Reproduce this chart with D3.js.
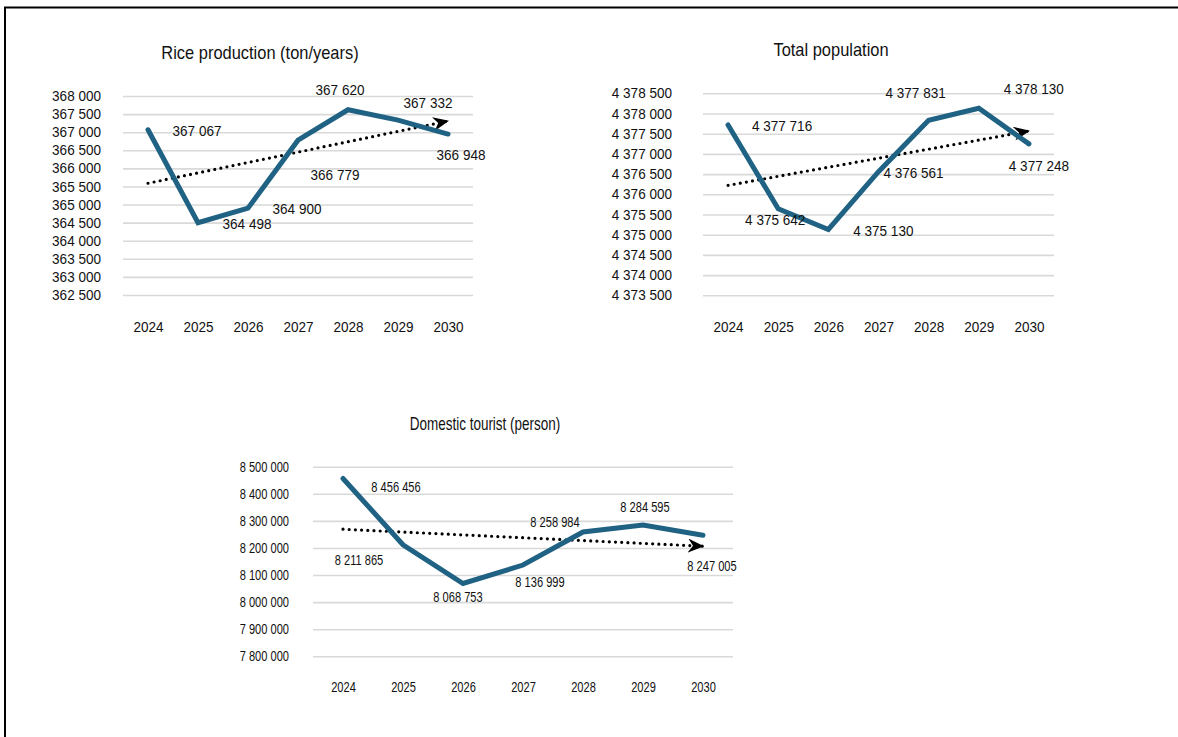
<!DOCTYPE html>
<html>
<head>
<meta charset="utf-8">
<script src="https://cdn.jsdelivr.net/npm/d3@7"></script>
<style>
  html, body { margin: 0; padding: 0; background: #fff; }
  svg { display: block; font-family: "Liberation Sans", Arial, sans-serif; }
</style>
</head>
<body>
<svg id="chart" width="1178" height="737"></svg>
<script>
// ---------- data ----------
const years = ["2024", "2025", "2026", "2027", "2028", "2029", "2030"];

const riceTitle = "Rice production (ton/years)";
const riceValues = [367067, 364498, 364900, 366779, 367620, 367332, 366948];
const riceTicks = [362500, 363000, 363500, 364000, 364500, 365000, 365500, 366000, 366500, 367000, 367500, 368000];

const popTitle = "Total population";
const popValues = [4377716, 4375642, 4375130, 4376561, 4377831, 4378130, 4377248];
const popTicks = [4373500, 4374000, 4374500, 4375000, 4375500, 4376000, 4376500, 4377000, 4377500, 4378000, 4378500];

const tourTitle = "Domestic tourist (person)";
const tourValues = [8456456, 8211865, 8068753, 8136999, 8258984, 8284595, 8247005];
const tourTicks = [7800000, 7900000, 8000000, 8100000, 8200000, 8300000, 8400000, 8500000];

// ---------- layout (label offsets relative to their points, in px) ----------
const riceLabelOffsets = [[49, 1], [49, 1], [49, 1], [37, 35], [-8, -20], [30, -17], [13, 21]];
const popLabelOffsets = [[54, 1], [-3, 11], [55, 1], [35, 1], [-13, -27], [55, -19], [10, 22]];
const tourLabelOffsets = [[53, 8], [-44, 15], [-5, 13], [17, 17], [-28, -10], [2, -18], [9, 31]];

const LINE_COLOR = "#1f6283";
const GRID_COLOR = "#d9d9d9";
const TEXT_COLOR = "#111";
const TICK_FS = 14.4;
const TITLE_FS = 17.5;

const svg = d3.select("#chart");
svg.append("rect").attr("width", 1178).attr("height", 737).attr("fill", "#fff");

// outer frame (left and top edges visible)
svg.append("path")
  .attr("d", "M5,737 V7.5 H1178")
  .attr("fill", "none").attr("stroke", "#000").attr("stroke-width", 2);

// arrow marker (stealth)
const defs = svg.append("defs");
defs.append("marker")
  .attr("id", "arrow")
  .attr("markerUnits", "userSpaceOnUse")
  .attr("viewBox", "0 0 16 14")
  .attr("refX", 15).attr("refY", 7)
  .attr("markerWidth", 16).attr("markerHeight", 14)
  .attr("orient", "auto")
  .append("path")
  .attr("d", "M0,0 L16,7 L0,14 L5,7 Z")
  .attr("fill", "#000");

const fmt = v => d3.format(",")(v).replace(/,/g, " ");

function scaledText(g, x, y, str, fs, sx, anchor) {
  return g.append("text")
    .attr("transform", `translate(${x},${y}) scale(${sx},1)`)
    .attr("text-anchor", anchor || "middle")
    .attr("dy", "0.35em")
    .attr("font-size", fs)
    .attr("fill", TEXT_COLOR)
    .text(str);
}

function linReg(vals) {
  const mx = d3.mean(vals, (d, i) => i);
  const my = d3.mean(vals);
  let num = 0, den = 0;
  vals.forEach((v, i) => { num += (i - mx) * (v - my); den += (i - mx) * (i - mx); });
  const b = num / den;
  const a = my - b * mx;
  return vals.map((v, i) => a + b * i);
}

function drawChart(cfg) {
  const g = svg.append("g");
  const x = d3.scalePoint().domain(years).range([cfg.x0, cfg.x1]).padding(0.5);
  const y = d3.scaleLinear().domain([cfg.ticks[0], cfg.ticks[cfg.ticks.length - 1]]).range([cfg.yBot, cfg.yTop]);

  // gridlines + y tick labels via axis
  const yAxis = d3.axisLeft(y).tickValues(cfg.ticks).tickFormat(fmt)
    .tickSize(-(cfg.x1 - cfg.x0)).tickPadding(cfg.labelPad);
  const ya = g.append("g").attr("transform", `translate(${cfg.x0},0)`).call(yAxis);
  ya.select(".domain").remove();
  ya.selectAll(".tick line").attr("stroke", GRID_COLOR).attr("stroke-width", 1.6);
  ya.selectAll(".tick text")
    .attr("font-size", TICK_FS).attr("font-family", null).attr("fill", TEXT_COLOR)
    .each(function () {
      const t = d3.select(this);
      const tx = +t.attr("x");
      t.attr("x", 0).attr("transform", `translate(${tx},0) scale(${cfg.sx},1)`);
    });

  // x labels via axis
  const xAxis = d3.axisBottom(x).tickSize(0).tickPadding(0);
  const xa = g.append("g").attr("transform", `translate(0,${cfg.xLabelY - 0.36 * TICK_FS})`).call(xAxis);
  xa.select(".domain").remove();
  xa.selectAll(".tick text")
    .attr("font-size", TICK_FS).attr("font-family", null).attr("fill", TEXT_COLOR)
    .attr("transform", `scale(${cfg.sx},1)`);

  // title
  scaledText(g, cfg.titleX, cfg.titleY, cfg.title, TITLE_FS, cfg.sx);

  // trend line
  const trend = linReg(cfg.values);
  g.append("path")
    .datum(trend)
    .attr("d", d3.line().x((d, i) => x(years[i])).y(d => y(d)))
    .attr("fill", "none")
    .attr("stroke", "#000")
    .attr("stroke-width", 3.2)
    .attr("stroke-linecap", "round")
    .attr("stroke-dasharray", "0 6.2")
    .attr("marker-end", "url(#arrow)");

  // data line
  g.append("path")
    .datum(cfg.values)
    .attr("d", d3.line().x((d, i) => x(years[i])).y(d => y(d)))
    .attr("fill", "none")
    .attr("stroke", LINE_COLOR)
    .attr("stroke-width", 5)
    .attr("stroke-linecap", "round")
    .attr("stroke-linejoin", "miter");

  // data labels
  cfg.values.forEach((v, i) => {
    const [dx, dy] = cfg.offsets[i];
    scaledText(g, x(years[i]) + dx, y(v) + dy, fmt(v), TICK_FS, cfg.sx);
  });
}

drawChart({
  title: riceTitle, values: riceValues, ticks: riceTicks, offsets: riceLabelOffsets,
  x0: 123, x1: 473, yTop: 96, yBot: 295, labelPad: 22,
  xLabelY: 327, titleX: 260, titleY: 52.5, sx: 0.94
});

drawChart({
  title: popTitle, values: popValues, ticks: popTicks, offsets: popLabelOffsets,
  x0: 703, x1: 1054, yTop: 93.3, yBot: 295.3, labelPad: 31,
  xLabelY: 327, titleX: 831, titleY: 50, sx: 0.94
});

drawChart({
  title: tourTitle, values: tourValues, ticks: tourTicks, offsets: tourLabelOffsets,
  x0: 313, x1: 733, yTop: 466.7, yBot: 656.3, labelPad: 24,
  xLabelY: 686.7, titleX: 485, titleY: 424, sx: 0.77
});
</script>
</body>
</html>
